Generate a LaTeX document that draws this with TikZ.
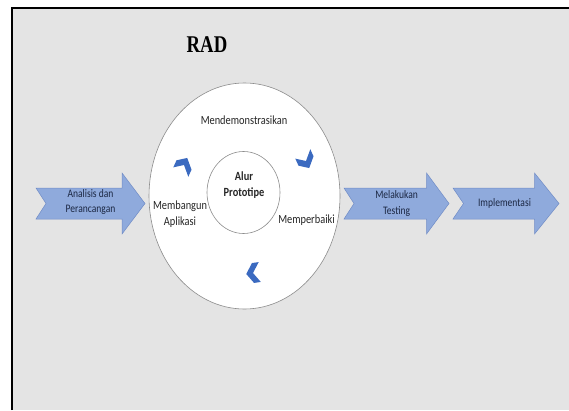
\documentclass[tikz,border=0pt]{standalone}
\usepackage{fontspec}
\setmainfont{Carlito}[FakeStretch=0.83]
\newfontfamily\titlefont{Liberation Serif}[FakeStretch=0.78]
\usetikzlibrary{shapes.geometric}

\definecolor{panelgray}{RGB}{228,228,228}
\definecolor{arrowfill}{RGB}{143,170,220}
\definecolor{arrowedge}{RGB}{112,140,198}
\definecolor{chevblue}{RGB}{59,106,192}
\definecolor{arrowtext}{RGB}{28,40,68}
\definecolor{ringline}{RGB}{140,140,140}

% small chevron used as a cycle marker, pointing along +x
\tikzset{
  chev/.pic={\fill[chevblue] (-8,10) -- (0,10) -- (8,0) -- (0,-10) -- (-8,-10) -- (0,0) -- cycle;}
}

% notched block arrow: left edge, notch, head base, tip
\newcommand\blockarrow[4]{%
  \draw[steparrow] (#1,222) -- (#3,222) -- (#3,237) -- (#4,206.5) -- (#3,176)
    -- (#3,191) -- (#1,191) -- (#2,206.5) -- cycle;}

\begin{document}
\begin{tikzpicture}[x=1pt,y=1pt,
  steparrow/.style={fill=arrowfill, draw=arrowedge, line width=0.5pt, line join=miter},
  arrowlabel/.style={font=\fontsize{11.5}{15.5}\selectfont, text=arrowtext, align=center, inner sep=0pt},
  cyclelabel/.style={font=\fontsize{12.5}{16}\selectfont, text=black!85, align=center, inner sep=0pt},
  ringshape/.style={ellipse, fill=white, draw=ringline, line width=0.6pt, inner sep=0pt}
]
\useasboundingbox (0,0) rectangle (569,410);

% panel
\fill[panelgray] (12,0) rectangle (569,402);
\draw[line width=1.6pt] (12,0) -- (12,402) -- (569,402);

% title
\node[font=\titlefont\bfseries\fontsize{24}{28}\selectfont, inner sep=0pt] (title) at (207,365.3) {RAD};

% process arrows
\blockarrow{36}{46}{122}{145}
\blockarrow{344}{354}{426.5}{449}
\blockarrow{453}{463.5}{534.5}{559}
\node[arrowlabel] (analisis) at (90.5,208) {Analisis dan\\Perancangan};
\node[arrowlabel] (testing) at (396.6,206.5) {Melakukan\\Testing};
\node[arrowlabel] (implementasi) at (504.5,206.5) {Implementasi};

% prototype cycle
\node[ringshape, minimum width=191pt, minimum height=226pt] (ring) at (244.5,214) {};
\node[ringshape, minimum width=73pt, minimum height=82pt] (hub) at (243.5,217.5) {};
\node[cyclelabel, font=\bfseries\fontsize{12.5}{16}\selectfont] (alur) at (244,225) {Alur\\Prototipe};
\node[cyclelabel] (demo) at (244,290) {Mendemonstrasikan};
\node[cyclelabel] (bangun) at (180,196) {Membangun\\Aplikasi};
\node[cyclelabel] (perbaiki) at (306.5,190) {Memperbaiki};

\pic[xscale=0.85, rotate=62] at (184,245) {chev};
\pic[xscale=0.85, rotate=-62] at (306,249) {chev};
\pic[xscale=0.85, rotate=187] at (253,137) {chev};
\end{tikzpicture}
\end{document}
